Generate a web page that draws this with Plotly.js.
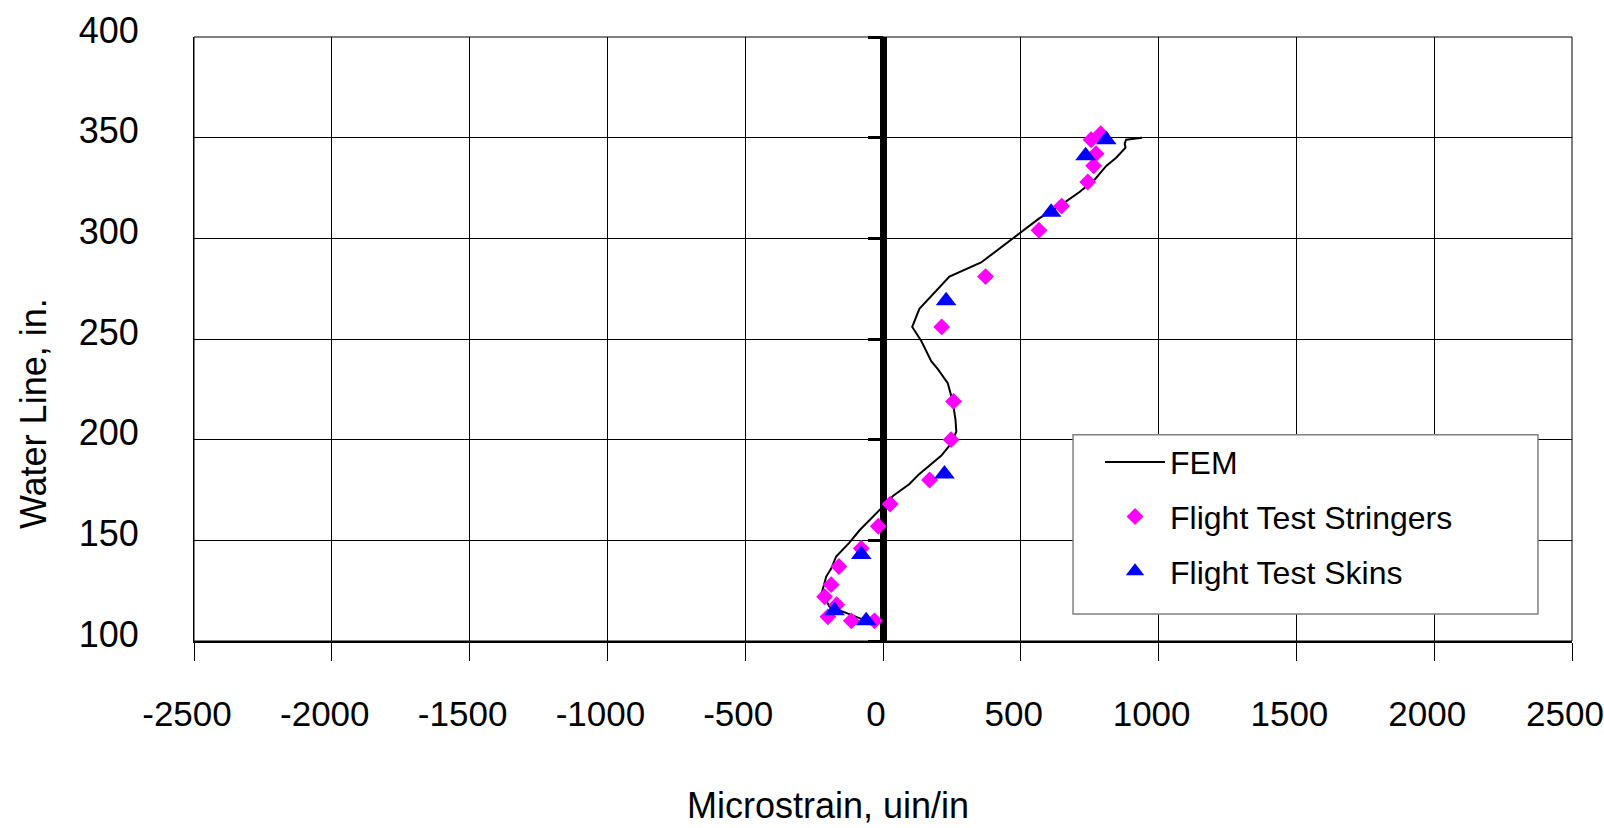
<!DOCTYPE html>
<html>
<head>
<meta charset="utf-8">
<script src="https://cdn.plot.ly/plotly-3.0.1.min.js"></script>
<style>html,body{margin:0;padding:0;background:#fff;}#chart{width:1604px;height:828px;}</style>
</head>
<body>
<div id="chart"></div>
<script>
// FEM prediction (microstrain vs water line)
const femStrain = [-43, -79, -134, -194, -222, -206, -188, -170, -121, -85, -13, 36, 96, 132, 211, 247, 266, 263, 253, 235, 199, 175, 139, 106, 132, 241, 356, 471, 568, 640, 713, 767, 810, 846, 880, 877, 882, 940];
const femWL     = [110, 111, 114, 117, 124, 132, 136, 142, 149, 155, 165, 172, 178, 183, 192, 198, 204, 210, 219, 228, 235, 239, 249, 256, 265, 281, 288, 300, 310, 316, 323, 329, 336, 340, 345, 347, 349, 350];

// Flight test stringers
const stringerStrain = [790, 755, 773, 764, 743, 648, 566, 372, 213, 256, 247, 169, 26, -17, -79, -160, -188, -212, -168, -200, -115, -31];
const stringerWL     = [352, 349, 342, 336, 328, 316, 304, 281, 256, 219, 200, 180, 168, 157, 146, 137, 128, 122, 118, 112, 110, 110];

// Flight test skins
const skinStrain = [810, 735, 610, 229, 223, -79, -176, -61];
const skinWL     = [349, 341, 313, 269, 183, 143, 115, 110];

const xTicks = [-2500, -2000, -1500, -1000, -500, 0, 500, 1000, 1500, 2000, 2500];
const yTicks = [100, 150, 200, 250, 300, 350, 400];

const FONT = 'Liberation Sans, Arial, sans-serif';

const traces = [
  {x: femStrain, y: femWL, type: 'scatter', mode: 'lines', name: 'FEM',
   line: {color: '#000000', width: 2}, legendgroup: 'a'},
  {x: stringerStrain, y: stringerWL, type: 'scatter', mode: 'markers', name: 'Flight Test Stringers',
   marker: {symbol: 'diamond', size: 13, color: '#FF00FF'}, legendgroup: 'b'},
  {x: skinStrain, y: skinWL, type: 'scatter', mode: 'markers', name: 'Flight Test Skins', yaxis: 'y2',
   marker: {symbol: 'triangle-up', size: 18, color: '#0000FF'}, legendgroup: 'c'}
];

const layout = {
  width: 1604, height: 828,
  margin: {l: 194, r: 32, t: 37, b: 187, pad: 0},
  paper_bgcolor: '#ffffff', plot_bgcolor: '#ffffff',
  font: {family: FONT, color: '#000000'},
  showlegend: true,
  xaxis: {
    range: [-2500, 2500], tickvals: xTicks, ticktext: xTicks.map(String),
    showgrid: true, gridcolor: '#000000', gridwidth: 1,
    zeroline: true, zerolinecolor: '#000000', zerolinewidth: 7,
    ticks: 'outside', ticklen: 18, tickwidth: 1, tickcolor: '#000000',
    showline: true, linecolor: '#000000', linewidth: 2,
    tickfont: {size: 35, family: FONT, color: '#000000'},
    ticklabelstandoff: 23, ticklabelshift: -7, ticklabeloverflow: 'allow',
    fixedrange: true
  },
  yaxis: {
    range: [100, 400], tickvals: yTicks, ticktext: yTicks.map(String),
    showgrid: true, gridcolor: '#000000', gridwidth: 1,
    zeroline: false, ticks: '',
    showline: true, linecolor: '#000000', linewidth: 1,
    tickfont: {size: 36, family: FONT, color: '#000000'},
    ticklabelstandoff: 47, ticklabelshift: -7, ticklabeloverflow: 'allow',
    fixedrange: true
  },
  yaxis2: {
    overlaying: 'y', anchor: 'free', position: 0.5, side: 'left',
    range: [100, 400], tickvals: yTicks,
    showgrid: false, zeroline: false, showline: false, showticklabels: false,
    ticks: 'outside', ticklen: 15, tickwidth: 3, tickcolor: '#000000', fixedrange: true
  },
  legend: {
    x: 0.6575, y: 0.3416, xanchor: 'left', yanchor: 'top',
    bgcolor: 'rgba(0,0,0,0)', borderwidth: 0,
    font: {size: 32, family: FONT, color: '#000000'},
    itemwidth: 60, tracegroupgap: 10, traceorder: 'grouped'
  },
  shapes: [
    {type: 'rect', xref: 'paper', yref: 'paper', x0: 0, x1: 1, y0: 0, y1: 1,
     line: {color: '#000000', width: 1}, fillcolor: 'rgba(0,0,0,0)', layer: 'above'},
    {type: 'rect', xref: 'paper', yref: 'paper', x0: 0.6379, x1: 0.9753, y0: 0.0447, y1: 0.3416,
     line: {color: '#808080', width: 1.5}, fillcolor: '#ffffff', layer: 'above'}
  ],
  annotations: [
    {text: 'Water Line, in.', xref: 'paper', yref: 'paper', x: -0.1168, y: 0.3758,
     xanchor: 'center', yanchor: 'middle', textangle: -90, showarrow: false,
     font: {size: 36, family: FONT, color: '#000000'}},
    {text: 'Microstrain, uin/in', xref: 'paper', yref: 'paper', x: 0.460, y: -0.3096,
     xanchor: 'center', yanchor: 'bottom', showarrow: false,
     font: {size: 36, family: FONT, color: '#000000'}}
  ]
};

Plotly.newPlot('chart', traces, layout, {displayModeBar: false, staticPlot: true});
</script>
</body>
</html>
